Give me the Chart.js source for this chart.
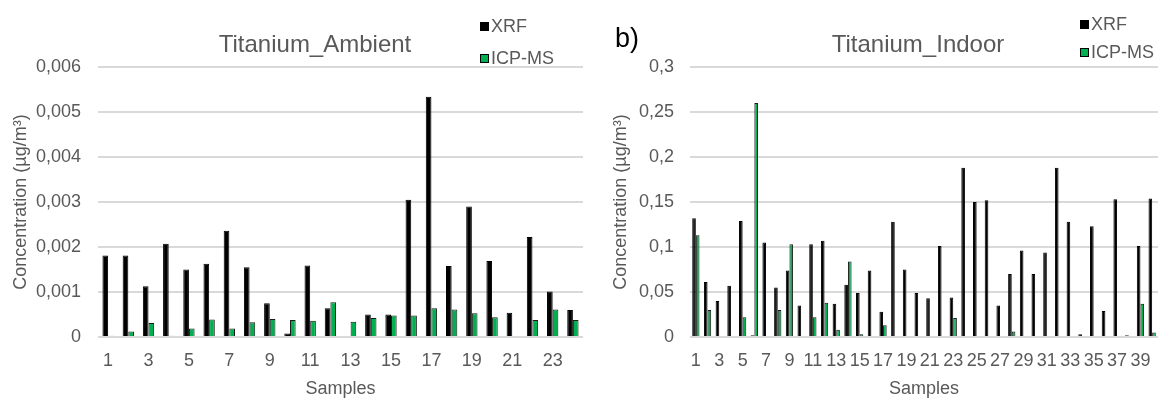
<!DOCTYPE html>
<html>
<head>
<meta charset="utf-8">
<script src="https://cdn.jsdelivr.net/npm/chart.js@4.4.1/dist/chart.umd.min.js"></script>
<style>
  html, body { margin: 0; padding: 0; background: #fff; }
  #wrap { position: relative; width: 1158px; height: 398px; overflow: hidden;
          font-family: "Liberation Sans", Arial, sans-serif; color: #595959; }
  canvas { position: absolute; top: 0; }
  #ambient { left: 0; }
  #indoor { left: 580px; }
  .title { position: absolute; font-size: 24px; line-height: 28px; white-space: nowrap;
           transform: translate(-50%, -50%); }
  .leg { position: absolute; font-size: 18px; line-height: 20px; white-space: nowrap;
         display: flex; align-items: center; transform: translateY(-50%); }
  .leg i { display: inline-block; width: 9px; height: 9px; box-sizing: border-box;
           border: 1px solid #000; margin-right: 2px; }
  .tag { position: absolute; font-size: 27px; line-height: 30px; color: #000;
         transform: translateY(-50%); }
</style>
</head>
<body>
<div id="wrap">
  <canvas id="ambient" width="600" height="398"></canvas>
  <canvas id="indoor" width="578" height="398"></canvas>

  <div class="title" style="left:315px; top:44px;">Titanium_Ambient</div>
  <div class="leg" style="left:480px; top:26px;"><i style="background:#000"></i>XRF</div>
  <div class="leg" style="left:480px; top:58px;"><i style="background:#00b050"></i>ICP-MS</div>

  <div class="tag" style="left:615px; top:38px;">b)</div>
  <div class="title" style="left:918px; top:44px;">Titanium_Indoor</div>
  <div class="leg" style="left:1080px; top:24px;"><i style="background:#000"></i>XRF</div>
  <div class="leg" style="left:1080px; top:52px;"><i style="background:#00b050"></i>ICP-MS</div>
</div>
<script>
// Titanium_Ambient - samples 1..24
const ambientSamples = ['1','2','3','4','5','6','7','8','9','10','11','12',
                        '13','14','15','16','17','18','19','20','21','22','23','24'];
const ambientXRF = [0.00181, 0.00181, 0.00113, 0.00207, 0.0015, 0.00163, 0.00236, 0.00155,
                    0.00075, 0.00008, 0.00159, 0.00064, 0, 0.0005, 0.0005, 0.00305,
                    0.00534, 0.00158, 0.0029, 0.00169, 0.00054, 0.00222, 0.00101, 0.0006];
const ambientICP = [0.00003, 0.00012, 0.00031, 0.00003, 0.00019, 0.00039, 0.00019, 0.00033,
                    0.0004, 0.00038, 0.00036, 0.00077, 0.00034, 0.00042, 0.00048, 0.00048,
                    0.00064, 0.00061, 0.00053, 0.00044, 0, 0.00038, 0.00061, 0.00038];
const ambientYTicks = ['0', '0,001', '0,002', '0,003', '0,004', '0,005', '0,006'];

// Titanium_Indoor - samples 1..40
const indoorSamples = ['1','2','3','4','5','6','7','8','9','10','11','12','13','14','15',
                       '16','17','18','19','20','21','22','23','24','25','26','27','28',
                       '29','30','31','32','33','34','35','36','37','38','39','40'];
const indoorXRF = [0.132, 0.061, 0.040, 0.057, 0.129, 0.002, 0.105, 0.055, 0.074, 0.035,
                   0.103, 0.107, 0.037, 0.058, 0.049, 0.074, 0.028, 0.128, 0.075, 0.049,
                   0.043, 0.101, 0.044, 0.188, 0.150, 0.152, 0.035, 0.070, 0.096, 0.070,
                   0.094, 0.188, 0.128, 0.003, 0.123, 0.029, 0.153, 0.002, 0.101, 0.154];
const indoorICP = [0.113, 0.030, 0, 0, 0.022, 0.260, 0, 0.030, 0.103, 0,
                   0.022, 0.038, 0.008, 0.084, 0.003, 0, 0.013, 0, 0, 0,
                   0, 0, 0.021, 0, 0, 0, 0, 0.006, 0, 0,
                   0, 0, 0, 0, 0, 0, 0, 0, 0.037, 0.005];
const indoorYTicks = ['0', '0,05', '0,1', '0,15', '0,2', '0,25', '0,3'];

const textColor = '#595959';
const font = { family: '"Liberation Sans", Arial, sans-serif', size: 18 };

// builds one of the two bar charts
function makeChart(id, labels, xrf, icp, yTicks, yMax, yStep, opts) {
    return new Chart(document.getElementById(id), {
        type: 'bar',
        data: {
            labels: labels,
            datasets: [
                { label: 'XRF', data: xrf, backgroundColor: '#000000',
                  borderColor: '#000000', borderWidth: 1 },
                { label: 'ICP-MS', data: icp, backgroundColor: '#00b050',
                  borderColor: '#1a1a1a', borderWidth: 1 }
            ]
        },
        options: {
            responsive: false,
            animation: false,
            devicePixelRatio: 1,
            layout: { padding: { top: 67, right: opts.padRight, left: 0, bottom: 0 } },
            datasets: { bar: { categoryPercentage: opts.catPct, barPercentage: 1.0 } },
            plugins: { legend: { display: false }, title: { display: false },
                       tooltip: { enabled: false } },
            scales: {
                x: {
                    grid: { display: false },
                    border: { display: false },
                    ticks: {
                        color: textColor, font: font, padding: 5,
                        autoSkip: false, maxRotation: 0,
                        callback: (v, i) => (i % 2 === 0 ? labels[i] : '')
                    },
                    title: { display: true, text: 'Samples', color: textColor, font: font,
                             padding: { top: 0, bottom: -2 } },
                    afterFit: s => { s.height = 61; }
                },
                y: {
                    min: 0, max: yMax,
                    grid: { color: '#d9d9d9', lineWidth: 2, drawTicks: false },
                    border: { display: false },
                    ticks: {
                        stepSize: yStep, color: textColor, font: font, padding: opts.tickPad,
                        callback: (v, i) => yTicks[i]
                    },
                    title: { display: true, text: 'Concentration (µg/m³)', color: textColor,
                             font: font, padding: { top: opts.titlePad, bottom: 0 } },
                    afterFit: s => { s.width = opts.yWidth; }
                }
            }
        }
    });
}

makeChart('ambient', ambientSamples, ambientXRF, ambientICP, ambientYTicks, 0.006, 0.001,
          { padRight: 17, catPct: 0.56, yWidth: 98, tickPad: 17, titlePad: 10 });
makeChart('indoor', indoorSamples, indoorXRF, indoorICP, indoorYTicks, 0.3, 0.05,
          { padRight: 0, catPct: 0.62, yWidth: 110, tickPad: 16, titlePad: 30 });
</script>
</body>
</html>
